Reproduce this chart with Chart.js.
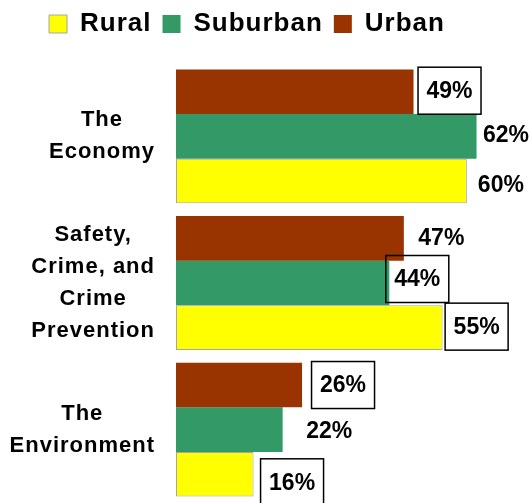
<!DOCTYPE html>
<html>
<head>
<meta charset="utf-8">
<script src="https://cdn.jsdelivr.net/npm/chart.js@4.4.1/dist/chart.umd.min.js"></script>
<style>
  html, body { margin: 0; padding: 0; background: #fff; }
  #wrap { width: 532px; height: 503px; position: relative; }
</style>
</head>
<body>
<div id="wrap"><canvas id="issuesChart"></canvas></div>
<script>
// chart data
const categories = [
    ['The', 'Economy'],
    ['Safety,', 'Crime, and', 'Crime', 'Prevention'],
    ['The', 'Environment']
];
const ruralValues = [60, 55, 16];
const suburbanValues = [62, 44, 22];
const urbanValues = [49, 47, 26];

// where each value label sits relative to the bar end / bar centre, and whether it is boxed
const urbanLabelPos = [{ dx: 36, dy: -1, box: true }, { dx: 37.5, dy: -1, box: false }, { dx: 41, dy: 0, box: true }];
const suburbanLabelPos = [{ dx: 29.5, dy: -2, box: false }, { dx: 28, dy: -4, box: true }, { dx: 46.5, dy: 1, box: false }];
const ruralLabelPos = [{ dx: 34, dy: 4, box: false }, { dx: 34, dy: -1, box: true }, { dx: 38.5, dy: 8, box: true }];

const fontFamily = "'Liberation Sans', Arial, sans-serif";

// wider letter spacing, like the original
const spacingPlugin = {
    id: 'spacing',
    beforeUpdate(chart) { chart.ctx.letterSpacing = '1px'; },
    beforeLayout(chart) { chart.ctx.letterSpacing = '1px'; },
    beforeDraw(chart) { chart.ctx.letterSpacing = '1px'; }
};

// category labels: each block centred on itself, right edge lined up
const categoryLabels = {
    id: 'categoryLabels',
    afterDraw(chart) {
        const ctx = chart.ctx;
        const yScale = chart.scales.y;
        const right = chart.chartArea.left - 21;
        const lineHeight = 32;
        ctx.save();
        ctx.letterSpacing = '1px';
        ctx.font = 'bold 22px ' + fontFamily;
        ctx.fillStyle = '#000';
        ctx.textAlign = 'center';
        ctx.textBaseline = 'middle';
        categories.forEach((lines, i) => {
            const maxW = Math.max(...lines.map(l => ctx.measureText(l).width));
            const cx = right - maxW / 2;
            const cy = yScale.getPixelForValue(i);
            const top = cy - (lines.length - 1) * lineHeight / 2;
            lines.forEach((line, j) => ctx.fillText(line, cx, top + j * lineHeight));
        });
        ctx.restore();
    }
};

// value labels at the end of each bar
const valueLabels = {
    id: 'valueLabels',
    afterDatasetsDraw(chart) {
        const ctx = chart.ctx;
        const positions = [urbanLabelPos, suburbanLabelPos, ruralLabelPos];
        ctx.save();
        ctx.letterSpacing = '0px';
        ctx.font = 'bold 23px ' + fontFamily;
        ctx.fillStyle = '#000';
        ctx.strokeStyle = '#000';
        ctx.lineWidth = 1.5;
        ctx.textAlign = 'center';
        ctx.textBaseline = 'middle';
        chart.data.datasets.forEach((ds, d) => {
            const meta = chart.getDatasetMeta(d);
            meta.data.forEach((bar, i) => {
                const pos = positions[d][i];
                const x = bar.x + pos.dx;
                const y = bar.y + pos.dy;
                if (pos.box) {
                    ctx.strokeRect(x - 31.5, y - 23.5, 63, 47);
                }
                ctx.fillText(ds.data[i] + '%', x, y + 1);
            });
        });
        ctx.restore();
    }
};

const ctx = document.getElementById('issuesChart').getContext('2d');
const issuesChart = new Chart(ctx, {
    type: 'bar',
    data: {
        labels: categories,
        datasets: [
            {
                label: 'Urban',
                data: urbanValues,
                backgroundColor: '#993300',
                borderWidth: 0
            },
            {
                label: 'Suburban',
                data: suburbanValues,
                backgroundColor: '#339966',
                borderWidth: 0
            },
            {
                label: 'Rural',
                data: ruralValues,
                backgroundColor: '#ffff00',
                borderColor: '#a6a6a6',
                borderWidth: 1,
                borderSkipped: false
            }
        ]
    },
    options: {
        indexAxis: 'y',
        responsive: true,
        maintainAspectRatio: false,
        animation: false,
        layout: {
            padding: { top: 0, right: 38, bottom: 0, left: 0 }
        },
        datasets: {
            bar: {
                categoryPercentage: 0.913,
                barPercentage: 1
            }
        },
        scales: {
            x: {
                position: 'top',
                min: 0,
                max: 65.6,
                grid: { display: false },
                border: { display: false },
                ticks: { display: false },
                afterFit(scale) { scale.height = 16; }
            },
            y: {
                grid: { display: false },
                border: { display: false },
                ticks: { display: false },
                afterFit(scale) { scale.width = 176; }
            }
        },
        plugins: {
            legend: {
                position: 'top',
                reverse: true,
                labels: {
                    boxWidth: 18,
                    boxHeight: 18,
                    padding: 11,
                    color: '#000',
                    font: { family: fontFamily, size: 26, weight: 'bold' }
                }
            },
            tooltip: { enabled: false }
        }
    },
    plugins: [spacingPlugin, valueLabels, categoryLabels]
});
</script>
</body>
</html>
